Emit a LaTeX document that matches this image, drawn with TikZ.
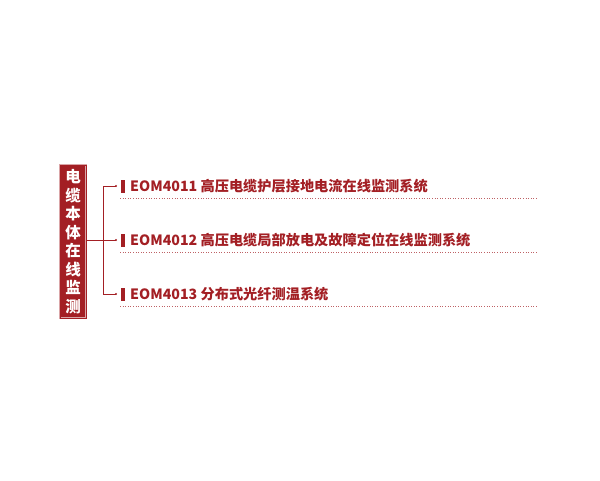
\documentclass[tikz,border=0pt]{standalone}
\usepackage{fontspec}
\setmainfont{Noto Sans CJK SC}
\usepackage{xcolor}
\usetikzlibrary{positioning}
\definecolor{cablered}{HTML}{A31F24}
\begin{document}
\begin{tikzpicture}[x=1pt,y=-1pt,
  item/.style={anchor=west,text=cablered,font=\fontsize{14.2}{16}\selectfont\bfseries,inner sep=0pt},
  link/.style={draw=cablered,line width=0.6pt}]
\useasboundingbox (0,0) rectangle (600,480);
% left box
\node[fill=cablered,draw=cablered!40,double=cablered,text=white,minimum width=26pt,minimum height=153pt,align=center,
  font=\fontsize{15.5}{18.5}\selectfont\bfseries,inner sep=0pt] (topic) at (73,241.5)
  {电\\缆\\本\\体\\在\\线\\监\\测};
% items
\node[item] (a) at (130,186) {EOM4011 高压电缆护层接地电流在线监测系统};
\node[item] (b) at (130,240) {EOM4012 高压电缆局部放电及故障定位在线监测系统};
\node[item] (c) at (130,294) {EOM4013 分布式光纤测温系统};
% bars
\foreach \n in {a,b,c}
  \fill[cablered] ([xshift=-9pt,yshift=-6.5pt]\n.west) rectangle ([xshift=-5pt,yshift=6.5pt]\n.west);
% connectors
\coordinate (hub) at (103,240);
\draw[link] (topic.east |- hub) -- (hub);
\draw[link] (hub |- a) -- (hub |- c);
\foreach \n in {a,b,c} {
  \draw[link] (hub |- \n) -- ([xshift=-14pt]\n.west);
  \fill[cablered] ([xshift=-14pt]\n.west) circle (1.2pt);
  \draw[cablered!70,dotted,line width=0.6pt] ([xshift=-10pt,yshift=-12pt]\n.west) -- ++(418,0);
}
\end{tikzpicture}
\end{document}
